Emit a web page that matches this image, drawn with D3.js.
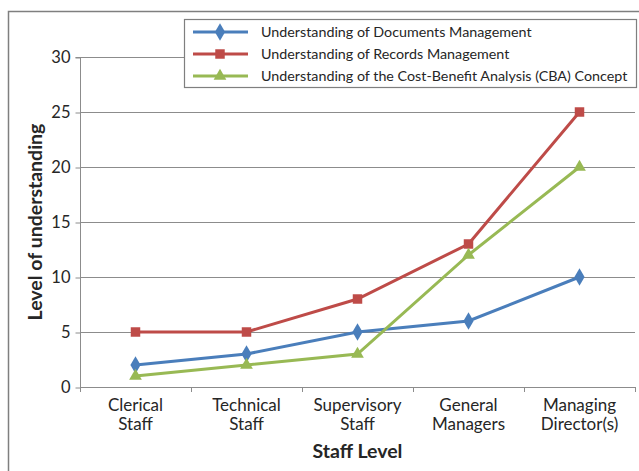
<!DOCTYPE html>
<html>
<head>
<meta charset="utf-8">
<script src="https://cdn.jsdelivr.net/npm/d3@7"></script>
<style>
  body { margin: 0; background: #fff; }
  text { font-family: Lato, "Open Sans", sans-serif; fill: #262626; }
</style>
</head>
<body>
<div id="chart"></div>
<script>
// staff levels (two-line labels)
var categories = [["Clerical", "Staff"], ["Technical", "Staff"], ["Supervisory", "Staff"], ["General", "Managers"], ["Managing", "Director(s)"]];
var seriesNames = ["Understanding of Documents Management", "Understanding of Records Management", "Understanding of the Cost-Benefit Analysis (CBA) Concept"];
var documentsVals = [2, 3, 5, 6, 10];
var recordsVals = [5, 5, 8, 13, 25];
var cbaVals = [1, 2, 3, 12, 20];
var yTicks = [0, 5, 10, 15, 20, 25, 30];

var colors = ["#4a7ebb", "#be4b48", "#98b954"];
var markers = [d3.symbolDiamond, d3.symbolSquare, d3.symbolTriangle];
var series = [documentsVals, recordsVals, cbaVals];

var W = 639, H = 471;
var svg = d3.select("#chart").append("svg").attr("width", W).attr("height", H);

// outer chart border (cropped at right/bottom)
svg.append("path")
    .attr("d", "M8.5,480 V11.5 H660")
    .attr("fill", "none").attr("stroke", "#7f7f7f").attr("stroke-width", 1.5);

var pL = 80, pR = 635, pT = 57, pB = 387;
var x = d3.scaleBand().domain(d3.range(categories.length)).range([pL, pR]);
var y = d3.scaleLinear().domain([0, 30]).range([pB, pT]);

// gridlines
svg.append("g").selectAll("line").data(yTicks.slice(1)).join("line")
    .attr("x1", pL).attr("x2", pR)
    .attr("y1", d => y(d) + 0.5).attr("y2", d => y(d) + 0.5)
    .attr("stroke", "#8c8c8c").attr("stroke-width", 1);

// y axis
var yAxis = svg.append("g").attr("transform", "translate(" + (pL + 0.5) + ",0.5)")
    .call(d3.axisLeft(y).tickValues(yTicks).tickSize(5).tickPadding(5));
yAxis.select(".domain").attr("stroke", "#8c8c8c").attr("d", "M-5," + y(30) + "H0V" + y(0));
yAxis.selectAll(".tick line").attr("stroke", "#8c8c8c");
yAxis.selectAll("text").style("font-size", "16.5px").attr("fill", "#262626").attr("font-family", "Lato, sans-serif");

// x axis
svg.append("line").attr("x1", pL).attr("x2", pR).attr("y1", pB + 0.5).attr("y2", pB + 0.5)
    .attr("stroke", "#8c8c8c");
var bounds = d3.range(categories.length + 1).map(i => i < categories.length ? x(i) : pR);
svg.append("g").selectAll("line").data(bounds).join("line")
    .attr("x1", d => d + 0.5).attr("x2", d => d + 0.5)
    .attr("y1", pB).attr("y2", pB + 5)
    .attr("stroke", "#8c8c8c");

var xl = svg.append("g").selectAll("text").data(categories).join("text")
    .attr("x", (d, i) => x(i) + x.bandwidth() / 2)
    .attr("y", pB + 24)
    .attr("text-anchor", "middle")
    .style("font-size", "17px");
xl.selectAll("tspan").data(d => d).join("tspan")
    .attr("x", function() { return d3.select(this.parentNode).attr("x"); })
    .attr("dy", (d, i) => i ? 19 : 0)
    .text(d => d);

// axis titles
svg.append("text").attr("x", (pL + pR) / 2).attr("y", 458)
    .attr("text-anchor", "middle").style("font-size", "19.5px").style("font-weight", "bold")
    .text("Staff Level");
svg.append("text").attr("transform", "translate(42,222) rotate(-90)")
    .attr("text-anchor", "middle").style("font-size", "19.5px").style("font-weight", "bold")
    .text("Level of understanding");

// lines + markers
var line = d3.line().x((d, i) => x(i) + x.bandwidth() / 2).y(d => y(d));
series.forEach(function(vals, s) {
    svg.append("path").datum(vals).attr("d", line)
        .attr("fill", "none").attr("stroke", colors[s]).attr("stroke-width", 3);
    svg.append("g").selectAll("path").data(vals).join("path")
        .attr("transform", (d, i) => "translate(" + (x(i) + x.bandwidth() / 2) + "," + y(d) + ")")
        .attr("d", d3.symbol().type(markers[s]).size(s == 2 ? 70 : 90))
        .attr("fill", colors[s]);
});

// legend
var lg = svg.append("g");
lg.append("rect").attr("x", 184.5).attr("y", 19.5).attr("width", 452).attr("height", 68)
    .attr("fill", "#fff").attr("stroke", "#7f7f7f").attr("stroke-width", 1.2);
seriesNames.forEach(function(name, s) {
    var yy = 32 + s * 22;
    lg.append("line").attr("x1", 193).attr("x2", 248).attr("y1", yy).attr("y2", yy)
        .attr("stroke", colors[s]).attr("stroke-width", 3);
    lg.append("path").attr("transform", "translate(220," + yy + ")")
        .attr("d", d3.symbol().type(markers[s]).size(s == 2 ? 70 : 90)).attr("fill", colors[s]);
    lg.append("text").attr("x", 261).attr("y", yy + 5).style("font-size", "14.3px").text(name);
});
</script>
</body>
</html>
